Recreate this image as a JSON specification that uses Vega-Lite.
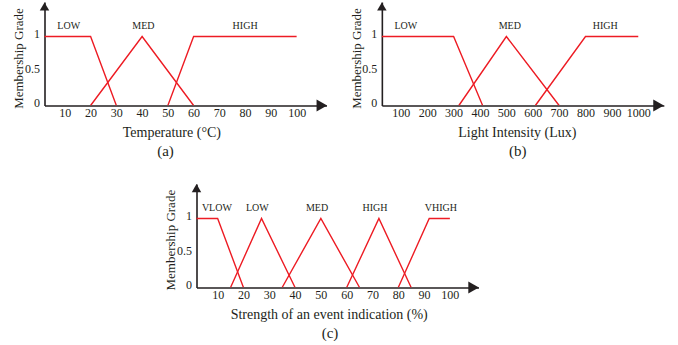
{
  "$schema": "https://vega.github.io/schema/vega-lite/v6.json",
  "autosize": {"type": "pad"},
  "padding": {"left": 12.5, "top": 2, "right": 0, "bottom": 0},
  "background": "white",
  "datasets": {
    "temp": [
      {"set": "LOW", "x": 0, "grade": 1}, {"set": "LOW", "x": 20, "grade": 1}, {"set": "LOW", "x": 30, "grade": 0},
      {"set": "MED", "x": 20, "grade": 0}, {"set": "MED", "x": 40, "grade": 1}, {"set": "MED", "x": 60, "grade": 0},
      {"set": "HIGH", "x": 50, "grade": 0}, {"set": "HIGH", "x": 60, "grade": 1}, {"set": "HIGH", "x": 100, "grade": 1}
    ],
    "tempLabels": [
      {"label": "LOW", "x": 11.5}, {"label": "MED", "x": 40.5}, {"label": "HIGH", "x": 80}
    ],
    "light": [
      {"set": "LOW", "x": 0, "grade": 1}, {"set": "LOW", "x": 300, "grade": 1}, {"set": "LOW", "x": 410, "grade": 0},
      {"set": "MED", "x": 320, "grade": 0}, {"set": "MED", "x": 500, "grade": 1}, {"set": "MED", "x": 700, "grade": 0},
      {"set": "HIGH", "x": 610, "grade": 0}, {"set": "HIGH", "x": 800, "grade": 1}, {"set": "HIGH", "x": 1000, "grade": 1}
    ],
    "lightLabels": [
      {"label": "LOW", "x": 119}, {"label": "MED", "x": 513}, {"label": "HIGH", "x": 875}
    ],
    "event": [
      {"set": "VLOW", "x": 0, "grade": 1}, {"set": "VLOW", "x": 10, "grade": 1}, {"set": "VLOW", "x": 20, "grade": 0},
      {"set": "LOW", "x": 15, "grade": 0}, {"set": "LOW", "x": 27, "grade": 1}, {"set": "LOW", "x": 40, "grade": 0},
      {"set": "MED", "x": 35, "grade": 0}, {"set": "MED", "x": 50, "grade": 1}, {"set": "MED", "x": 65, "grade": 0},
      {"set": "HIGH", "x": 60, "grade": 0}, {"set": "HIGH", "x": 72.5, "grade": 1}, {"set": "HIGH", "x": 85, "grade": 0},
      {"set": "VHIGH", "x": 80, "grade": 0}, {"set": "VHIGH", "x": 92, "grade": 1}, {"set": "VHIGH", "x": 100, "grade": 1}
    ],
    "eventLabels": [
      {"label": "VLOW", "x": 9.7}, {"label": "LOW", "x": 25.4}, {"label": "MED", "x": 48.5}, {"label": "HIGH", "x": 71}, {"label": "VHIGH", "x": 96.5}
    ]
  },
  "spacing": 25,
  "vconcat": [
    {
      "hconcat": [
        {
          "width": 282, "height": 103.5,
          "title": {"text": "(a)", "dx": -20, "offset": 4, "frame": "group", "anchor": "middle"},
          "layer": [
            {
              "data": {"name": "temp"},
              "mark": {"type": "line", "color": "#ed1c24", "strokeWidth": 1.4, "clip": true},
              "encoding": {
                "x": {"field": "x", "type": "quantitative", "scale": {"domain": [2.1, 111.6], "nice": false, "zero": false},
                  "axis": {"values": [10, 20, 30, 40, 50, 60, 70, 80, 90, 100], "format": "d", "tickCount": 20, "labelOverlap": false, "labelPadding": 2, "labelBaseline": "top", "title": "Temperature (°C)", "titleBaseline": "alphabetic", "titleY": 31, "titleX": 126.85, "titleAlign": "center"}},
                "y": {"field": "grade", "type": "quantitative", "scale": {"domain": [0, 1.5], "nice": false},
                  "axis": {"values": [0, 0.5, 1], "tickCount": 10, "format": "~g", "labelOverlap": false, "labelPadding": 5, "labelBaseline": "middle", "labelOffset": -3, "title": "Membership Grade", "titleFontSize": 13, "titleAngle": 270, "titleBaseline": "bottom", "titleAlign": "center", "titleX": -18.6, "titleY": 56}},
                "detail": {"field": "set"}
              }
            },
            {
              "data": {"name": "tempLabels"},
              "mark": {"type": "text", "fontSize": 10, "dy": -11, "baseline": "middle", "color": "#231f20"},
              "encoding": {"x": {"field": "x", "type": "quantitative"}, "y": {"datum": 1}, "text": {"field": "label"}}
            },
            {
              "data": {"values": [{}]},
              "mark": {"type": "point", "shape": "triangle-up", "size": 90, "filled": true, "color": "#231f20", "opacity": 1},
              "encoding": {"x": {"datum": 2.1}, "y": {"datum": 1.435}}
            },
            {
              "data": {"values": [{}]},
              "mark": {"type": "point", "shape": "triangle-right", "size": 150, "filled": true, "color": "#231f20", "opacity": 1},
              "encoding": {"x": {"datum": 109.8}, "y": {"datum": 0}}
            }
          ]
        },
        {
          "width": 282, "height": 103.5,
          "title": {"text": "(b)", "dx": -5, "offset": 4, "frame": "group", "anchor": "middle"},
          "layer": [
            {
              "data": {"name": "light"},
              "mark": {"type": "line", "color": "#ed1c24", "strokeWidth": 1.4, "clip": true},
              "encoding": {
                "x": {"field": "x", "type": "quantitative", "scale": {"domain": [28, 1097], "nice": false, "zero": false},
                  "axis": {"values": [100, 200, 300, 400, 500, 600, 700, 800, 900, 1000], "format": "d", "tickCount": 20, "labelOverlap": false, "labelPadding": 2, "labelBaseline": "top", "title": "Light Intensity (Lux)", "titleBaseline": "alphabetic", "titleY": 31, "titleX": 135, "titleAlign": "center"}},
                "y": {"field": "grade", "type": "quantitative", "scale": {"domain": [0, 1.5], "nice": false},
                  "axis": {"values": [0, 0.5, 1], "tickCount": 10, "format": "~g", "labelOverlap": false, "labelPadding": 5, "labelBaseline": "middle", "labelOffset": -3, "title": "Membership Grade", "titleFontSize": 13, "titleAngle": 270, "titleBaseline": "bottom", "titleAlign": "center", "titleX": -18.6, "titleY": 56}},
                "detail": {"field": "set"}
              }
            },
            {
              "data": {"name": "lightLabels"},
              "mark": {"type": "text", "fontSize": 10, "dy": -11, "baseline": "middle", "color": "#231f20"},
              "encoding": {"x": {"field": "x", "type": "quantitative"}, "y": {"datum": 1}, "text": {"field": "label"}}
            },
            {
              "data": {"values": [{}]},
              "mark": {"type": "point", "shape": "triangle-up", "size": 90, "filled": true, "color": "#231f20", "opacity": 1},
              "encoding": {"x": {"datum": 28}, "y": {"datum": 1.435}}
            },
            {
              "data": {"values": [{}]},
              "mark": {"type": "point", "shape": "triangle-right", "size": 150, "filled": true, "color": "#231f20", "opacity": 1},
              "encoding": {"x": {"datum": 1077}, "y": {"datum": 0}}
            }
          ]
        }
      ],
      "spacing": 55.35,
      "bounds": "flush",
      "align": "none"
    },
    {
      "hconcat": [
        {
          "width": 131.35, "height": 103.5,
          "data": {"values": [{}]},
          "mark": "text",
          "encoding": {"text": {"value": ""}}
        },
        {
          "width": 282, "height": 103.5,
          "title": {"text": "(c)", "dx": -7.5, "offset": 4, "frame": "group", "anchor": "middle"},
          "layer": [
            {
              "data": {"name": "event"},
              "mark": {"type": "line", "color": "#ed1c24", "strokeWidth": 1.4, "clip": true},
              "encoding": {
                "x": {"field": "x", "type": "quantitative", "scale": {"domain": [1.8, 111.1], "nice": false, "zero": false},
                  "axis": {"values": [10, 20, 30, 40, 50, 60, 70, 80, 90, 100], "format": "d", "tickCount": 20, "labelOverlap": false, "labelPadding": 2, "labelBaseline": "top", "title": "Strength of an event indication (%)", "titleBaseline": "alphabetic", "titleY": 31, "titleX": 132.2, "titleAlign": "center"}},
                "y": {"field": "grade", "type": "quantitative", "scale": {"domain": [0, 1.5], "nice": false},
                  "axis": {"values": [0, 0.5, 1], "tickCount": 10, "format": "~g", "labelOverlap": false, "labelPadding": 5, "labelBaseline": "middle", "labelOffset": -3, "title": "Membership Grade", "titleFontSize": 13, "titleAngle": 270, "titleBaseline": "bottom", "titleAlign": "center", "titleX": -19.5, "titleY": 55.7}},
                "detail": {"field": "set"}
              }
            },
            {
              "data": {"name": "eventLabels"},
              "mark": {"type": "text", "fontSize": 10, "dy": -11, "baseline": "middle", "color": "#231f20"},
              "encoding": {"x": {"field": "x", "type": "quantitative"}, "y": {"datum": 1}, "text": {"field": "label"}}
            },
            {
              "data": {"values": [{}]},
              "mark": {"type": "point", "shape": "triangle-up", "size": 90, "filled": true, "color": "#231f20", "opacity": 1},
              "encoding": {"x": {"datum": 1.8}, "y": {"datum": 1.44}}
            },
            {
              "data": {"values": [{}]},
              "mark": {"type": "point", "shape": "triangle-right", "size": 150, "filled": true, "color": "#231f20", "opacity": 1},
              "encoding": {"x": {"datum": 109.2}, "y": {"datum": 0}}
            }
          ]
        }
      ],
      "spacing": 20,
      "bounds": "flush",
      "align": "none"
    }
  ],
  "config": {
    "view": {"stroke": null},
    "font": "Liberation Serif",
    "text": {"font": "Liberation Serif"},
    "axis": {
      "domainColor": "#231f20", "domainWidth": 1.6, "ticks": false, "grid": false,
      "labelColor": "#231f20", "titleColor": "#231f20",
      "labelFont": "Liberation Serif", "titleFont": "Liberation Serif",
      "labelFontSize": 12, "titleFontSize": 14, "titleFontWeight": "normal",
      "labelFlush": false, "labelOverlap": false
    },
    "title": {"font": "Liberation Serif", "fontSize": 15, "fontWeight": "normal", "color": "#231f20", "orient": "bottom"}
  }
}
